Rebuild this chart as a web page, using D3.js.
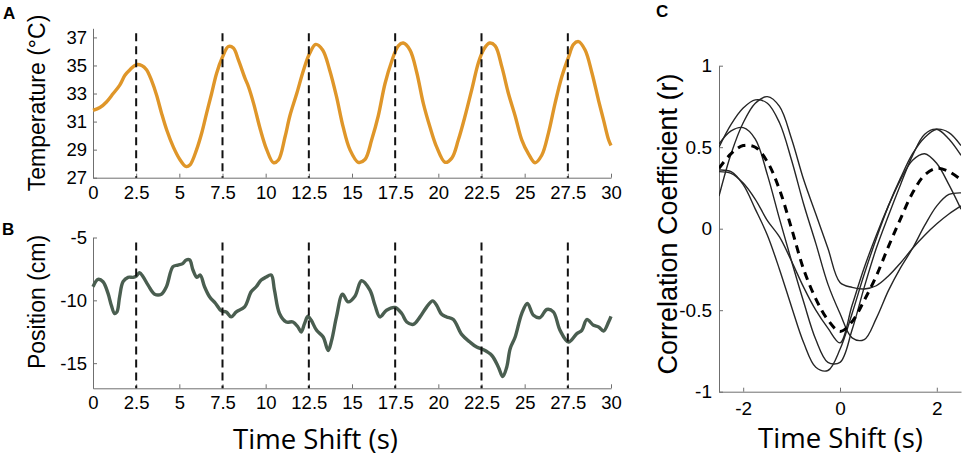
<!DOCTYPE html>
<html>
<head>
<meta charset="utf-8">
<script src="https://cdn.jsdelivr.net/npm/d3@7"></script>
<style>
body { margin: 0; background: #fff; }
svg { display: block; }
.axis path, .axis line { stroke: #6f6f6f; stroke-width: 1; }
.axis text { font-family: Arial, "Liberation Sans", sans-serif; fill: #000; }
.lbl { font-family: Arial, "Liberation Sans", sans-serif; fill: #000; }
.shift { font-family: "Open Sans", "Noto Sans", sans-serif; fill: #000; }
</style>
</head>
<body>
<div id="chart"></div>
<script>
// panel A: skin temperature
var timeA = [0, 0.4, 0.78, 1.17, 1.55, 1.85, 2.14, 2.5, 2.82, 3.1, 3.4, 3.68, 3.97, 4.27, 4.65, 5.03, 5.38, 5.61,
    6.0, 6.3, 6.58, 6.87, 7.16, 7.5, 7.84, 8.13, 8.42, 8.8, 9.0, 9.3, 9.7, 10.06, 10.45, 10.74, 11.12, 11.4,
    11.8, 12.2, 12.56, 12.9, 13.3, 13.7, 14.1, 14.49, 14.88, 15.36, 15.75, 16.14, 16.52, 16.91, 17.3, 17.68,
    17.97, 18.36, 18.75, 19.13, 19.52, 19.9, 20.39, 20.78, 21.16, 21.55, 21.94, 22.32, 22.61, 22.96, 23.29,
    23.68, 24.06, 24.45, 24.83, 25.22, 25.6, 25.99, 26.38, 26.76, 27.15, 27.54, 27.83, 28.12, 28.5, 28.89,
    29.28, 29.57, 29.86, 30];
var tempA = [31.8, 32.0, 32.4, 33.0, 33.6, 34.3, 34.7, 35.05, 35.0, 34.7, 33.9, 32.9, 31.6, 30.4, 29.2, 28.3, 27.8, 27.9,
    29.0, 30.2, 31.6, 33.0, 34.45, 35.6, 36.35, 36.24, 35.4, 34.1, 33.5, 32.3, 30.4, 29.0, 28.07, 28.26, 29.9, 31.4,
    33.0, 34.7, 35.9, 36.5, 36.1, 34.7, 32.8, 30.6, 29.0, 28.1, 28.3, 29.7, 31.4, 33.7, 35.3, 36.4,
    36.6, 36.1, 34.5, 32.3, 30.6, 29.2, 28.1, 28.4, 29.7, 31.4, 33.3, 35.2, 36.1, 36.6, 36.4,
    34.9, 33.0, 31.4, 29.7, 28.7, 28.07, 28.6, 30.2, 32.3, 34.2, 35.6, 36.5, 36.7, 36.1, 34.5,
    32.5, 31.1, 29.7, 29.3];

// panel B: position
var timeB = [0, 0.29, 0.58, 0.87, 1.06, 1.25, 1.39, 1.54, 1.74, 2.03, 2.32, 2.51, 2.7, 2.9, 3.19, 3.57, 3.96, 4.25,
    4.63, 4.92, 5.17, 5.4, 5.6, 5.79, 6.02, 6.21, 6.46, 6.75, 7.1, 7.43, 7.72, 8.0, 8.3, 8.78, 9.16, 9.45, 9.74,
    10.0, 10.32, 10.51, 10.8, 11.19, 11.58, 11.87, 12.06, 12.25, 12.45, 12.64, 12.95, 13.33, 13.62, 13.82, 14.1,
    14.45, 14.78, 15.17, 15.55, 16.04, 16.33, 16.62, 17.0, 17.49, 17.88, 18.17, 18.55, 18.94, 19.33, 19.67, 19.9,
    20.19, 20.48, 20.87, 21.35, 21.83, 22.22, 22.61, 23.1, 23.48, 23.73, 23.96, 24.16, 24.45, 24.83, 25.16, 25.51,
    25.89, 26.28, 26.66, 27.05, 27.54, 28.02, 28.31, 28.6, 28.99, 29.28, 29.57, 29.86, 30];
var posB = [-8.92, -8.33, -8.52, -9.45, -10.39, -11.05, -10.92, -9.72, -8.52, -8.17, -8.17, -8.07, -7.8, -8.12, -8.79, -9.51, -9.51, -8.92,
    -7.32, -7.19, -7.1, -6.79, -6.79, -7.59, -8.17, -7.99, -8.92, -9.72, -10.25, -10.84, -10.92, -11.32, -10.92, -10.52, -9.32, -8.92, -8.39,
    -8.17, -7.99, -9.19, -11.05, -11.72, -11.72, -12.12, -12.52, -11.85, -11.27, -11.59, -12.39, -12.92, -13.99, -13.19, -11.32,
    -9.51, -10.12, -9.67, -8.44, -9.19, -10.39, -11.32, -10.79, -10.57, -11.05, -11.72, -11.91, -11.32, -10.52, -10.04, -10.39,
    -11.11, -11.32, -11.53, -12.71, -13.32, -13.72, -13.93, -14.39, -15.32, -16.07, -15.32, -13.85, -12.92, -11.05, -10.25, -11.19,
    -11.37, -10.73, -10.92, -12.39, -13.32, -12.65, -12.39, -11.53, -11.99, -12.12, -12.44, -11.72, -11.27];

var markerTimes = [2.5, 7.5, 12.5, 17.5, 22.5, 27.5];
var ticksAB = [0, 2.5, 5, 7.5, 10, 12.5, 15, 17.5, 20, 22.5, 25, 27.5, 30];
var ticksTemp = [27, 29, 31, 33, 35, 37];
var ticksPos = [-15, -10, -5];

// panel C: cross-correlation per subject and mean
var lagC = [-2.5, -2.25, -2, -1.75, -1.5, -1.25, -1, -0.75, -0.5, -0.25, 0, 0.25, 0.5, 0.75, 1, 1.25, 1.5, 1.75, 2, 2.25, 2.5];
var corr1 = [0.20, 0.46, 0.65, 0.77, 0.81, 0.75, 0.55, 0.30, 0.09, -0.12, -0.33, -0.36, -0.37, -0.35, -0.29, -0.21, -0.12, -0.04, 0.03, 0.09, 0.14];
var corr2 = [0.50, 0.64, 0.74, 0.79, 0.77, 0.65, 0.42, 0.15, -0.09, -0.34, -0.52, -0.67, -0.68, -0.55, -0.38, -0.24, -0.12, 0.02, 0.14, 0.21, 0.22];
var corr3 = [0.52, 0.60, 0.62, 0.55, 0.33, 0.06, -0.20, -0.45, -0.68, -0.82, -0.82, -0.62, -0.36, -0.12, 0.08, 0.27, 0.45, 0.58, 0.61, 0.55, 0.45];
var corr4 = [0.36, 0.35, 0.27, 0.12, -0.04, -0.25, -0.48, -0.70, -0.85, -0.87, -0.74, -0.52, -0.28, -0.06, 0.14, 0.31, 0.46, 0.56, 0.61, 0.59, 0.51];
var corr5 = [0.35, 0.34, 0.28, 0.18, 0.05, -0.05, -0.20, -0.36, -0.50, -0.61, -0.70, -0.47, -0.24, -0.04, 0.14, 0.30, 0.42, 0.46, 0.40, 0.27, 0.12];
var corrMean = [0.37, 0.46, 0.51, 0.50, 0.41, 0.24, 0.00, -0.25, -0.43, -0.56, -0.63, -0.57, -0.44, -0.29, -0.11, 0.06, 0.22, 0.33, 0.37, 0.35, 0.30];
var ticksLag = [-2, 0, 2];
var ticksCorr = [-1, -0.5, 0, 0.5, 1];

var width = 965,
    height = 457;

var svg = d3.select("#chart").append("svg")
    .attr("width", width)
    .attr("height", height);

var xAB = d3.scaleLinear().domain([0, 30]).range([93, 611]);
var yA = d3.scaleLinear().domain([27, 37.65]).range([177.7, 28.3]);
var yB = d3.scaleLinear().domain([-17, -5]).range([388.3, 237.5]);
var xC = d3.scaleLinear().domain([-2.5, 2.5]).range([719, 961]);
var yC = d3.scaleLinear().domain([-1, 1]).range([391.7, 65.7]);

function fmt(d) { return String(d); }

function bottomAxis(scale, ticks, y, pad, size) {
    var g = svg.append("g")
        .attr("class", "axis")
        .attr("transform", "translate(0," + y + ")")
        .call(d3.axisBottom(scale).tickValues(ticks).tickFormat(fmt)
            .tickSize(-4).tickSizeOuter(0).tickPadding(pad));
    g.selectAll("text").style("font-size", size + "px");
}

function leftAxis(scale, ticks, x, pad, size) {
    var g = svg.append("g")
        .attr("class", "axis")
        .attr("transform", "translate(" + x + ",0)")
        .call(d3.axisLeft(scale).tickValues(ticks).tickFormat(fmt)
            .tickSize(-4).tickSizeOuter(0).tickPadding(pad));
    g.selectAll("text").style("font-size", size + "px");
}

// ---- panel A
bottomAxis(xAB, ticksAB, 177.7, 8, 18.5);
leftAxis(yA, ticksTemp, 93, 6, 18.5);

svg.append("path")
    .datum(d3.zip(timeA, tempA))
    .attr("fill", "none")
    .attr("stroke", "#df9629")
    .attr("stroke-width", 3.4)
    .attr("stroke-linejoin", "round")
    .attr("d", d3.line()
        .x(function(d) { return xAB(d[0]); })
        .y(function(d) { return yA(d[1]); })
        .curve(d3.curveCatmullRom.alpha(0.5)));

svg.append("g").selectAll("line")
    .data(markerTimes)
    .enter().append("line")
    .attr("x1", function(d) { return xAB(d); })
    .attr("x2", function(d) { return xAB(d); })
    .attr("y1", yA(37.3))
    .attr("y2", yA(27))
    .attr("stroke", "#111")
    .attr("stroke-width", 2)
    .attr("stroke-dasharray", "8,5");

// ---- panel B
bottomAxis(xAB, ticksAB, 388.3, 8, 18.5);
leftAxis(yB, ticksPos, 93, 6, 18.5);

svg.append("path")
    .datum(d3.zip(timeB, posB))
    .attr("fill", "none")
    .attr("stroke", "#4a5e50")
    .attr("stroke-width", 3.4)
    .attr("stroke-linejoin", "round")
    .attr("d", d3.line()
        .x(function(d) { return xAB(d[0]); })
        .y(function(d) { return yB(d[1]); })
        .curve(d3.curveCatmullRom.alpha(0.5)));

svg.append("g").selectAll("line")
    .data(markerTimes)
    .enter().append("line")
    .attr("x1", function(d) { return xAB(d); })
    .attr("x2", function(d) { return xAB(d); })
    .attr("y1", yB(-5.4))
    .attr("y2", yB(-17))
    .attr("stroke", "#111")
    .attr("stroke-width", 2)
    .attr("stroke-dasharray", "8,5");

// ---- panel C
svg.append("clipPath").attr("id", "clipC")
    .append("rect")
    .attr("x", xC(-2.5)).attr("y", yC(1))
    .attr("width", xC(2.5) - xC(-2.5)).attr("height", yC(-1) - yC(1));

bottomAxis(xC, ticksLag, 391.7, 10, 19);
leftAxis(yC, ticksCorr, 719, 7, 19);

var lineC = d3.line()
    .x(function(d) { return xC(d[0]); })
    .y(function(d) { return yC(d[1]); })
    .curve(d3.curveCatmullRom.alpha(0.5));

var gC = svg.append("g").attr("clip-path", "url(#clipC)");

gC.selectAll("path.subj")
    .data([corr1, corr2, corr3, corr4, corr5])
    .enter().append("path")
    .attr("class", "subj")
    .attr("fill", "none")
    .attr("stroke", "#262626")
    .attr("stroke-width", 1.4)
    .attr("d", function(d) { return lineC(d3.zip(lagC, d)); });

gC.append("path")
    .attr("fill", "none")
    .attr("stroke", "#000")
    .attr("stroke-width", 3)
    .attr("stroke-dasharray", "8,6")
    .attr("d", lineC(d3.zip(lagC, corrMean)));

// ---- titles and panel letters
svg.append("text").attr("class", "lbl")
    .attr("transform", "translate(45,103)rotate(-90)")
    .attr("text-anchor", "middle")
    .style("font-size", "23px")
    .text("Temperature (°C)");

svg.append("text").attr("class", "lbl")
    .attr("transform", "translate(45,302)rotate(-90)")
    .attr("text-anchor", "middle")
    .style("font-size", "23px")
    .text("Position (cm)");

svg.append("text").attr("class", "lbl")
    .attr("transform", "translate(677,224)rotate(-90)")
    .attr("text-anchor", "middle")
    .style("font-size", "27px")
    .text("Correlation Coefficient (r)");

svg.append("text").attr("class", "shift")
    .attr("x", 233).attr("y", 449)
    .attr("textLength", 165)
    .attr("lengthAdjust", "spacingAndGlyphs")
    .style("font-size", "28px")
    .text("Time Shift (s)");

svg.append("text").attr("class", "shift")
    .attr("x", 758).attr("y", 448)
    .attr("textLength", 165)
    .attr("lengthAdjust", "spacingAndGlyphs")
    .style("font-size", "28px")
    .text("Time Shift (s)");

svg.selectAll("text.letter")
    .data([["A", 3, 19], ["B", 2, 235], ["C", 656, 17]])
    .enter().append("text")
    .attr("class", "lbl letter")
    .attr("x", function(d) { return d[1]; })
    .attr("y", function(d) { return d[2]; })
    .style("font-size", "17px")
    .style("font-weight", "bold")
    .text(function(d) { return d[0]; });
</script>
</body>
</html>
